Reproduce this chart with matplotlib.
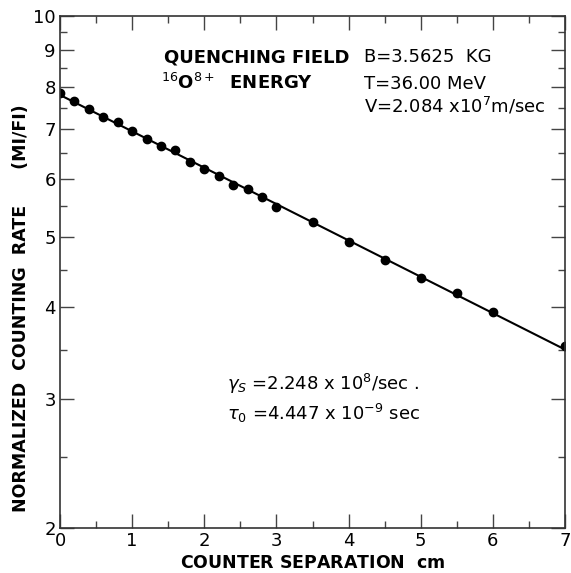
import numpy as np
import matplotlib
matplotlib.use('Agg')
import matplotlib.pyplot as plt

##-----------------------data--------------------------------##
sep_cm = [0.0, 0.2, 0.4, 0.6, 0.8, 1.0, 1.2, 1.4, 1.6, 1.8, 2.0, 2.2, 2.4, 2.6, 2.8,
          3.0, 3.5, 4.0, 4.5, 5.0, 5.5, 6.0, 7.0]
rate = [7.84, 7.66, 7.46, 7.27, 7.17, 6.97, 6.79, 6.65, 6.56, 6.32, 6.19, 6.05, 5.88, 5.81, 5.66,
        5.48, 5.23, 4.91, 4.64, 4.39, 4.18, 3.94, 3.54]

x_major = [0, 1, 2, 3, 4, 5, 6, 7]
x_minor = [0.5, 1.5, 2.5, 3.5, 4.5, 5.5, 6.5]
y_major = [2, 3, 4, 5, 6, 7, 8, 9, 10]
y_minor = [2.5, 3.5, 4.5, 5.5, 6.5, 7.5, 8.5, 9.5]

# straight line on log scale (exponential decay fit)
slope, icpt = np.polyfit(sep_cm, np.log(rate), 1)
fit_x = np.array([0.0, 7.0])
fit_y = np.exp(icpt + slope * fit_x)

##-----------------------draw--------------------------------##
fig = plt.figure(figsize=(5.71, 5.73), dpi=100)
ax = fig.add_axes([60/571, 45/573, 505/571, 512/573])

ax.plot(fit_x, fit_y, 'k-', lw=1.5)
ax.plot(sep_cm, rate, 'ko', ms=6)

ax.set_yscale('log')
ax.set_xlim(0, 7)
ax.set_ylim(2, 10)
ax.set_xticks(x_major)
ax.set_xticklabels([str(v) for v in x_major], fontsize=13)
ax.set_xticks(x_minor, minor=True)
ax.set_yticks(y_major)
ax.set_yticklabels([str(v) for v in y_major], fontsize=13)
ax.set_yticks(y_minor, minor=True)
ax.yaxis.set_minor_formatter(matplotlib.ticker.NullFormatter())

ax.tick_params(which='both', direction='in', top=True, right=True, width=1, color='#444444')
ax.tick_params(which='major', length=10, pad=3)
ax.tick_params(which='minor', length=5)
for s in ax.spines.values():
    s.set_linewidth(1.2)
    s.set_color('#333333')

ax.set_xlabel(r'COUNTER SEPARATION  $\mathregular{cm}$', fontsize=12.5, fontweight='bold')
ax.xaxis.set_label_coords(0.5, -0.05)
ax.set_ylabel('NORMALIZED  COUNTING  RATE      (MI/FI)', fontsize=12.5, fontweight='bold')
ax.yaxis.set_label_coords(-0.06, 0.43)

# annotations
ax.text(0.205, 0.91, 'QUENCHING FIELD', transform=ax.transAxes, fontsize=13, fontweight='bold')
ax.text(0.2, 0.858, r'$^{16}$O$^{8+}$  ENERGY', transform=ax.transAxes, fontsize=13, fontweight='bold')
ax.text(0.601, 0.91, 'B=3.5625  KG', transform=ax.transAxes, fontsize=13)
ax.text(0.601, 0.858, 'T=36.00 MeV', transform=ax.transAxes, fontsize=13)
ax.text(0.601, 0.812, r'V=2.084 x10$^{7}$m/sec', transform=ax.transAxes, fontsize=13)
ax.text(0.33, 0.27, r'$\gamma_S$ =2.248 x 10$^{8}$/sec .', transform=ax.transAxes, fontsize=13)
ax.text(0.33, 0.21, r'$\tau_0$ =4.447 x 10$^{-9}$ sec', transform=ax.transAxes, fontsize=13)

plt.savefig('out.png', dpi=100)
print('done')
